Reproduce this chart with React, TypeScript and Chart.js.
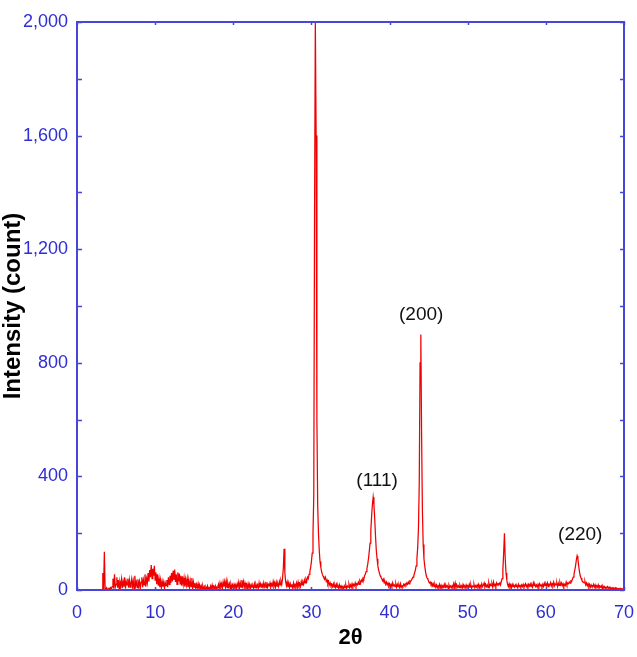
import React, { useEffect, useRef } from "react";
import { Chart, registerables } from "chart.js";

Chart.register(...registerables);

// Scan angles (2θ, degrees) and measured counts, one row per degree
const twoTheta: number[] = [
  3.2, 3.3, 3.4, 3.5, 3.6, 3.7, 3.8, 3.9,
  4.0, 4.1, 4.2, 4.3, 4.4, 4.5, 4.6, 4.7, 4.8, 4.9,
  5.0, 5.1, 5.2, 5.3, 5.4, 5.5, 5.6, 5.7, 5.8, 5.9,
  6.0, 6.1, 6.2, 6.3, 6.4, 6.5, 6.6, 6.7, 6.8, 6.9,
  7.0, 7.1, 7.2, 7.3, 7.4, 7.5, 7.6, 7.7, 7.8, 7.9,
  8.0, 8.1, 8.2, 8.3, 8.4, 8.5, 8.6, 8.7, 8.8, 8.9,
  9.0, 9.1, 9.2, 9.3, 9.4, 9.5, 9.6, 9.7, 9.8, 9.9,
  10.0, 10.1, 10.2, 10.3, 10.4, 10.5, 10.6, 10.7, 10.8, 10.9,
  11.0, 11.1, 11.2, 11.3, 11.4, 11.5, 11.6, 11.7, 11.8, 11.9,
  12.0, 12.1, 12.2, 12.3, 12.4, 12.5, 12.6, 12.7, 12.8, 12.9,
  13.0, 13.1, 13.2, 13.3, 13.4, 13.5, 13.6, 13.7, 13.8, 13.9,
  14.0, 14.1, 14.2, 14.3, 14.4, 14.5, 14.6, 14.7, 14.8, 14.9,
  15.0, 15.1, 15.2, 15.3, 15.4, 15.5, 15.6, 15.7, 15.8, 15.9,
  16.0, 16.1, 16.2, 16.3, 16.4, 16.5, 16.6, 16.7, 16.8, 16.9,
  17.0, 17.1, 17.2, 17.3, 17.4, 17.5, 17.6, 17.7, 17.8, 17.9,
  18.0, 18.1, 18.2, 18.3, 18.4, 18.5, 18.6, 18.7, 18.8, 18.9,
  19.0, 19.1, 19.2, 19.3, 19.4, 19.5, 19.6, 19.7, 19.8, 19.9,
  20.0, 20.1, 20.2, 20.3, 20.4, 20.5, 20.6, 20.7, 20.8, 20.9,
  21.0, 21.1, 21.2, 21.3, 21.4, 21.5, 21.6, 21.7, 21.8, 21.9,
  22.0, 22.1, 22.2, 22.3, 22.4, 22.5, 22.6, 22.7, 22.8, 22.9,
  23.0, 23.1, 23.2, 23.3, 23.4, 23.5, 23.6, 23.7, 23.8, 23.9,
  24.0, 24.1, 24.2, 24.3, 24.4, 24.5, 24.6, 24.7, 24.8, 24.9,
  25.0, 25.1, 25.2, 25.3, 25.4, 25.5, 25.6, 25.7, 25.8, 25.9,
  26.0, 26.1, 26.2, 26.3, 26.4, 26.5, 26.6, 26.7, 26.8, 26.9,
  27.0, 27.1, 27.2, 27.3, 27.4, 27.5, 27.6, 27.7, 27.8, 27.9,
  28.0, 28.1, 28.2, 28.3, 28.4, 28.5, 28.6, 28.7, 28.8, 28.9,
  29.0, 29.1, 29.2, 29.3, 29.4, 29.5, 29.6, 29.7, 29.8, 29.9,
  30.0, 30.1, 30.2, 30.3, 30.4, 30.5, 30.6, 30.7, 30.8, 30.9,
  31.0, 31.1, 31.2, 31.3, 31.4, 31.5, 31.6, 31.7, 31.8, 31.9,
  32.0, 32.1, 32.2, 32.3, 32.4, 32.5, 32.6, 32.7, 32.8, 32.9,
  33.0, 33.1, 33.2, 33.3, 33.4, 33.5, 33.6, 33.7, 33.8, 33.9,
  34.0, 34.1, 34.2, 34.3, 34.4, 34.5, 34.6, 34.7, 34.8, 34.9,
  35.0, 35.1, 35.2, 35.3, 35.4, 35.5, 35.6, 35.7, 35.8, 35.9,
  36.0, 36.1, 36.2, 36.3, 36.4, 36.5, 36.6, 36.7, 36.8, 36.9,
  37.0, 37.1, 37.2, 37.3, 37.4, 37.5, 37.6, 37.7, 37.8, 37.9,
  38.0, 38.1, 38.2, 38.3, 38.4, 38.5, 38.6, 38.7, 38.8, 38.9,
  39.0, 39.1, 39.2, 39.3, 39.4, 39.5, 39.6, 39.7, 39.8, 39.9,
  40.0, 40.1, 40.2, 40.3, 40.4, 40.5, 40.6, 40.7, 40.8, 40.9,
  41.0, 41.1, 41.2, 41.3, 41.4, 41.5, 41.6, 41.7, 41.8, 41.9,
  42.0, 42.1, 42.2, 42.3, 42.4, 42.5, 42.6, 42.7, 42.8, 42.9,
  43.0, 43.1, 43.2, 43.3, 43.4, 43.5, 43.6, 43.7, 43.8, 43.9,
  44.0, 44.1, 44.2, 44.3, 44.4, 44.5, 44.6, 44.7, 44.8, 44.9,
  45.0, 45.1, 45.2, 45.3, 45.4, 45.5, 45.6, 45.7, 45.8, 45.9,
  46.0, 46.1, 46.2, 46.3, 46.4, 46.5, 46.6, 46.7, 46.8, 46.9,
  47.0, 47.1, 47.2, 47.3, 47.4, 47.5, 47.6, 47.7, 47.8, 47.9,
  48.0, 48.1, 48.2, 48.3, 48.4, 48.5, 48.6, 48.7, 48.8, 48.9,
  49.0, 49.1, 49.2, 49.3, 49.4, 49.5, 49.6, 49.7, 49.8, 49.9,
  50.0, 50.1, 50.2, 50.3, 50.4, 50.5, 50.6, 50.7, 50.8, 50.9,
  51.0, 51.1, 51.2, 51.3, 51.4, 51.5, 51.6, 51.7, 51.8, 51.9,
  52.0, 52.1, 52.2, 52.3, 52.4, 52.5, 52.6, 52.7, 52.8, 52.9,
  53.0, 53.1, 53.2, 53.3, 53.4, 53.5, 53.6, 53.7, 53.8, 53.9,
  54.0, 54.1, 54.2, 54.3, 54.4, 54.5, 54.6, 54.7, 54.8, 54.9,
  55.0, 55.1, 55.2, 55.3, 55.4, 55.5, 55.6, 55.7, 55.8, 55.9,
  56.0, 56.1, 56.2, 56.3, 56.4, 56.5, 56.6, 56.7, 56.8, 56.9,
  57.0, 57.1, 57.2, 57.3, 57.4, 57.5, 57.6, 57.7, 57.8, 57.9,
  58.0, 58.1, 58.2, 58.3, 58.4, 58.5, 58.6, 58.7, 58.8, 58.9,
  59.0, 59.1, 59.2, 59.3, 59.4, 59.5, 59.6, 59.7, 59.8, 59.9,
  60.0, 60.1, 60.2, 60.3, 60.4, 60.5, 60.6, 60.7, 60.8, 60.9,
  61.0, 61.1, 61.2, 61.3, 61.4, 61.5, 61.6, 61.7, 61.8, 61.9,
  62.0, 62.1, 62.2, 62.3, 62.4, 62.5, 62.6, 62.7, 62.8, 62.9,
  63.0, 63.1, 63.2, 63.3, 63.4, 63.5, 63.6, 63.7, 63.8, 63.9,
  64.0, 64.1, 64.2, 64.3, 64.4, 64.5, 64.6, 64.7, 64.8, 64.9,
  65.0, 65.1, 65.2, 65.3, 65.4, 65.5, 65.6, 65.7, 65.8, 65.9,
  66.0, 66.1, 66.2, 66.3, 66.4, 66.5, 66.6, 66.7, 66.8, 66.9,
  67.0, 67.1, 67.2, 67.3, 67.4, 67.5, 67.6, 67.7, 67.8, 67.9,
  68.0, 68.1, 68.2, 68.3, 68.4, 68.5, 68.6, 68.7, 68.8, 68.9,
  69.0, 69.1, 69.2, 69.3, 69.4, 69.5, 69.6, 69.7, 69.8, 69.9,
];

const intensity: number[] = [
  0, 60, 2, 135, 5, 3, 8, 2,
  2, 6, 1, 8, 3, 12, 40, 5, 55, 10,
  20, 45, 8, 35, 5, 28, 15, 38, 6, 30,
  12, 45, 5, 30, 18, 40, 8, 35, 10, 25,
  40, 12, 32, 6, 50, 15, 28, 8, 38, 14,
  30, 5, 28, 45, 10, 35, 18, 55, 12, 40,
  25, 60, 30, 70, 45, 88, 40, 75, 50, 85,
  35, 62, 20, 55, 15, 40, 10, 35, 8, 30,
  12, 28, 6, 25, 15, 35, 10, 45, 20, 50,
  25, 60, 30, 68, 35, 72, 28, 55, 20, 62,
  30, 58, 22, 50, 15, 48, 20, 42, 12, 38,
  18, 40, 10, 35, 8, 32, 12, 42, 6, 28,
  10, 25, 5, 20, 8, 22, 3, 18, 6, 15,
  2, 15, 4, 12, 1, 10, 3, 14, 2, 8,
  5, 14, 2, 18, 6, 12, 3, 15, 5, 10,
  8, 20, 5, 25, 10, 22, 6, 28, 12, 30,
  10, 32, 8, 25, 12, 22, 5, 20, 8, 18,
  6, 20, 10, 18, 5, 22, 12, 28, 8, 25,
  10, 35, 15, 30, 8, 25, 12, 20, 5, 22,
  8, 20, 5, 18, 10, 15, 6, 22, 8, 20,
  10, 18, 5, 25, 8, 22, 12, 20, 6, 25,
  12, 22, 8, 28, 10, 20, 15, 25, 10, 22,
  15, 30, 12, 25, 10, 28, 14, 22, 12, 30,
  18, 32, 20, 40, 75, 145, 60, 30, 15, 28,
  10, 25, 8, 22, 12, 20, 6, 24, 10, 20,
  12, 25, 10, 28, 15, 22, 12, 30, 18, 28,
  20, 35, 25, 38, 30, 45, 40, 55, 65, 80,
  100, 130, 200, 330, 1330, 2000, 1600, 600, 300, 200,
  140, 100, 80, 65, 55, 48, 42, 38, 45, 30,
  35, 22, 30, 18, 25, 15, 20, 12, 22, 10,
  18, 8, 20, 10, 15, 5, 18, 8, 14, 6,
  12, 4, 15, 8, 18, 6, 14, 10, 20, 8,
  18, 10, 22, 12, 20, 15, 25, 14, 22, 18,
  28, 20, 32, 25, 35, 30, 42, 38, 50, 55,
  65, 75, 90, 110, 135, 165, 210, 260, 300, 327,
  300, 250, 190, 140, 110, 85, 70, 60, 50, 45,
  40, 32, 38, 25, 30, 20, 28, 18, 25, 15,
  22, 12, 20, 10, 25, 15, 18, 12, 22, 10,
  20, 12, 18, 8, 22, 10, 15, 12, 20, 15,
  22, 18, 25, 20, 28, 22, 32, 30, 35, 40,
  45, 50, 60, 70, 85, 110, 150, 220, 380, 800,
  900, 540, 280, 160, 110, 85, 65, 50, 42, 38,
  30, 25, 28, 20, 25, 15, 22, 12, 20, 10,
  18, 8, 15, 10, 20, 8, 16, 6, 15, 10,
  20, 8, 18, 12, 15, 6, 18, 10, 14, 8,
  15, 10, 22, 8, 25, 12, 18, 10, 15, 8,
  18, 10, 15, 6, 20, 12, 14, 8, 18, 10,
  15, 8, 20, 10, 18, 6, 14, 12, 20, 8,
  15, 10, 18, 12, 20, 8, 16, 10, 22, 12,
  18, 25, 10, 20, 12, 18, 8, 25, 12, 20,
  15, 22, 10, 28, 15, 20, 12, 25, 18, 22,
  20, 25, 18, 30, 40, 70, 130, 200, 110, 60,
  35, 20, 12, 22, 10, 18, 8, 20, 12, 16,
  10, 18, 12, 15, 8, 20, 12, 16, 10, 18,
  12, 20, 10, 15, 22, 12, 18, 8, 20, 14,
  22, 12, 18, 10, 25, 15, 20, 12, 18, 10,
  20, 12, 22, 15, 18, 10, 20, 12, 24, 15,
  22, 15, 25, 12, 20, 18, 26, 14, 22, 16,
  28, 15, 22, 18, 25, 12, 24, 16, 28, 18,
  25, 15, 22, 12, 20, 16, 28, 18, 24, 22,
  28, 24, 32, 30, 38, 45, 55, 70, 85, 105,
  120, 110, 85, 65, 50, 42, 35, 30, 28, 25,
  30, 18, 25, 15, 22, 12, 20, 10, 18, 12,
  12, 20, 10, 18, 8, 15, 10, 18, 6, 14,
  10, 15, 6, 14, 8, 12, 5, 10, 8, 12,
  6, 10, 4, 9, 5, 8, 3, 7, 5, 8,
  4, 6, 3, 5, 2, 6, 3, 5, 4, 3,
];

const xTickValues: number[] = [0, 10, 20, 30, 40, 50, 60, 70];
const yTickValues: number[] = [0, 400, 800, 1200, 1600, 2000];

const peakLabels: string[] = ["(111)", "(200)", "(220)"];
const peakLabelX: number[] = [38.4, 44.05, 64.4];
const peakLabelY: number[] = [384, 968, 194];

const FRAME_BLUE = "#4646d8";
const LABEL_BLUE = "#2e2ed4";
const FONT = "'Liberation Sans', Arial, sans-serif";

export default function App() {
  const ref = useRef<HTMLCanvasElement | null>(null);

  useEffect(() => {
    if (!ref.current) return;
    const points = twoTheta.map((x, i) => ({ x, y: intensity[i] }));

    const framePlugin = {
      id: "frame",
      afterDatasetsDraw(chart: any) {
        const { ctx, chartArea } = chart;
        const xs = chart.scales.x;
        const ys = chart.scales.y;
        ctx.save();
        ctx.strokeStyle = FRAME_BLUE;
        ctx.lineWidth = 1.5;
        ctx.beginPath();
        for (let v = 0; v <= 2000; v += 200) {
          const py = Math.round(ys.getPixelForValue(v)) + 0.5;
          ctx.moveTo(chartArea.left, py);
          ctx.lineTo(chartArea.left + 5, py);
          ctx.moveTo(chartArea.right, py);
          ctx.lineTo(chartArea.right - 4, py);
        }
        for (const v of xTickValues) {
          const px = Math.round(xs.getPixelForValue(v)) + 0.5;
          ctx.moveTo(px, chartArea.top);
          ctx.lineTo(px, chartArea.top + 3);
          ctx.moveTo(px, chartArea.bottom);
          ctx.lineTo(px, chartArea.bottom - 3);
        }
        ctx.stroke();
        ctx.lineWidth = 2;
        ctx.strokeRect(chartArea.left, chartArea.top, chartArea.right - chartArea.left, chartArea.bottom - chartArea.top);
        ctx.fillStyle = "#111";
        ctx.font = `19px ${FONT}`;
        ctx.textAlign = "center";
        ctx.textBaseline = "middle";
        peakLabels.forEach((t, i) => {
          ctx.fillText(t, xs.getPixelForValue(peakLabelX[i]), ys.getPixelForValue(peakLabelY[i]));
        });
        ctx.restore();
      },
    };

    const chart = new Chart(ref.current, {
      type: "line",
      data: {
        datasets: [
          {
            data: points,
            borderColor: "#f00000",
            borderWidth: 1.25,
            pointRadius: 0,
            fill: false,
            tension: 0,
          },
        ],
      },
      options: {
        animation: false,
        responsive: false,
        events: [],
        layout: { padding: { top: 22, right: 13, left: 0, bottom: 0 } },
        plugins: { legend: { display: false }, tooltip: { enabled: false } },
        scales: {
          x: {
            type: "linear",
            min: 0,
            max: 70,
            afterBuildTicks: (s: any) => {
              s.ticks = xTickValues.map((v) => ({ value: v }));
            },
            afterFit: (s: any) => {
              s.height = 67;
              s.paddingLeft = 0;
              s.paddingRight = 0;
            },
            grid: { display: false, drawTicks: false },
            border: { display: false },
            ticks: {
              color: LABEL_BLUE,
              font: { family: FONT, size: 18 },
              padding: 12,
              maxRotation: 0,
              autoSkip: false,
            },
            title: {
              display: true,
              text: "2θ",
              color: "#000",
              font: { family: FONT, size: 22, weight: "bold" },
              padding: { top: 0, bottom: 6 },
            },
          },
          y: {
            type: "linear",
            min: 0,
            max: 2000,
            afterBuildTicks: (s: any) => {
              s.ticks = yTickValues.map((v) => ({ value: v }));
            },
            afterFit: (s: any) => {
              s.width = 77;
              s.paddingTop = 0;
              s.paddingBottom = 0;
            },
            grid: { display: false, drawTicks: false },
            border: { display: false },
            ticks: {
              color: LABEL_BLUE,
              font: { family: FONT, size: 18 },
              padding: 9,
              autoSkip: false,
              callback: (v: any) => Number(v).toLocaleString("en-US"),
            },
            title: {
              display: true,
              text: "Intensity (count)",
              color: "#000",
              font: { family: FONT, size: 24, weight: "bold" },
              padding: { top: -1, bottom: 0 },
            },
          },
        },
      },
      plugins: [framePlugin],
    } as any);

    return () => chart.destroy();
  }, []);

  return (
    <div style={{ position: "fixed", left: 0, top: 0, width: 637, height: 657, background: "#fff" }}>
      <canvas ref={ref} width={637} height={657} style={{ display: "block" }} />
    </div>
  );
}
